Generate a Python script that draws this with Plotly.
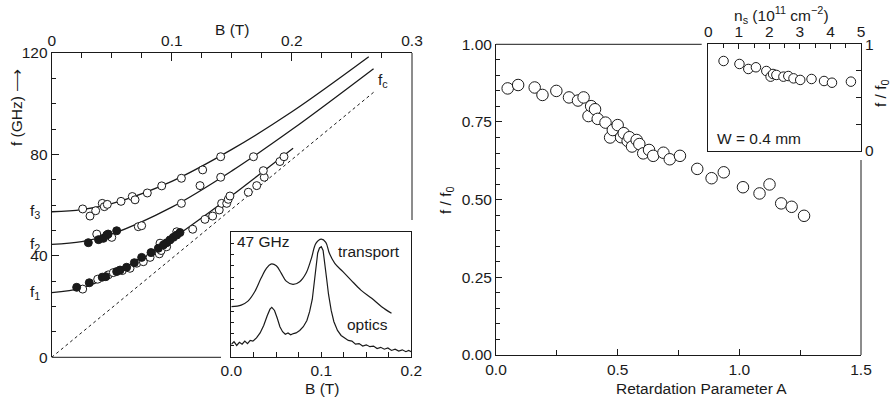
import plotly.graph_objects as go

W, H = 890, 405
def px(x):
    return x / W
def py(y):
    return 1 - y / H

FONT = "Liberation Sans, Arial, sans-serif"
INK = "#1a1a1a"
FS = 15.5

# ---------------- Left panel data (B in T, f in GHz) ----------------
open_B = [0.0258, 0.0319, 0.0366, 0.0421, 0.0438, 0.0463, 0.0577, 0.0671, 0.0694, 0.0796, 0.0916, 0.108, 0.1257, 0.1407,
          0.0375, 0.050, 0.0721, 0.0749, 0.108, 0.1235, 0.1407, 0.168,
          0.0258, 0.0383, 0.0471, 0.0513, 0.0588, 0.0652, 0.0708, 0.0763, 0.0819, 0.0896, 0.0911, 0.0902, 0.0957, 0.1041,
          0.1174, 0.1276, 0.134, 0.1395, 0.1415, 0.1457, 0.147, 0.1484, 0.1637, 0.1707, 0.177, 0.1762, 0.19, 0.1934]
open_f = [58.5, 55.7, 57.8, 60.7, 59.4, 60.3, 61.5, 63.4, 62.1, 64.8, 67.6, 70.6, 73.9, 79.1,
          48.6, 47.3, 51.5, 51.9, 60.7, 67.7, 71.0, 79.1,
          26.9, 30.8, 32.5, 33.4, 34.2, 35.1, 37.1, 37.7, 39.4, 40.8, 42.1, 45.0, 43.6, 49.5,
          50.5, 54.4, 55.7, 58.1, 60.7, 60.7, 62.3, 63.6, 65.1, 67.7, 71.0, 73.6, 77.2, 79.1]
filled_B = [0.0305, 0.039, 0.043, 0.0458, 0.047, 0.0541,
            0.0208, 0.0313, 0.0421, 0.045, 0.0541, 0.0569, 0.0624, 0.0688, 0.0749, 0.0827, 0.0888, 0.093, 0.0958,
            0.0985, 0.1013, 0.1041, 0.1068]
filled_f = [45.2, 46.4, 46.9, 48.2, 48.6, 49.9,
            27.6, 29.4, 31.6, 31.8, 33.8, 34.4, 35.5, 37.3, 39.4, 41.3, 43.0, 44.3, 45.2,
            46.3, 47.3, 48.2, 49.2]

# magnetoplasmon branches
curve3_B = [0, 0.025, 0.05, 0.1, 0.15, 0.2, 0.264]
curve3_f = [57.4, 58.2, 60.6, 69.4, 82.0, 96.8, 118.5]
curve2_B = [0, 0.025, 0.05, 0.1, 0.15, 0.2, 0.268]
curve2_f = [44.5, 45.6, 48.6, 59.2, 73.5, 89.8, 113.8]
curve1_B = [0, 0.025, 0.05, 0.075, 0.1, 0.125, 0.15, 0.175, 0.201]
curve1_f = [25.5, 27.3, 32.2, 38.8, 46.6, 55.0, 63.8, 72.9, 82.4]
fc_B = [0, 0.268]
fc_f = [0, 104.5]
f_labels = ["f<sub>1</sub>", "f<sub>2</sub>", "f<sub>3</sub>"]
f_values = [25.5, 44.5, 57.4]

# inset spectra at 47 GHz (arb. units)
trans_B = [0.000, 0.011, 0.0185, 0.026, 0.033, 0.039, 0.044, 0.050, 0.0556, 0.061, 0.0685, 0.076, 0.083, 0.089,
           0.094, 0.100, 0.105, 0.109, 0.115, 0.124, 0.133, 0.144, 0.156, 0.167, 0.178]
trans_v = [0.40, 0.413, 0.445, 0.52, 0.627, 0.707, 0.741, 0.728, 0.667, 0.605, 0.579, 0.60, 0.667, 0.787,
           0.907, 0.941, 0.915, 0.827, 0.747, 0.68, 0.613, 0.533, 0.467, 0.40, 0.347]
opt_B = [0.000, 0.003, 0.006, 0.009, 0.012, 0.015, 0.018, 0.021, 0.024, 0.028, 0.032, 0.036, 0.040, 0.043, 0.045,
         0.048, 0.051, 0.054, 0.057, 0.060, 0.063, 0.066, 0.069, 0.072, 0.076, 0.080, 0.084, 0.087, 0.090, 0.092,
         0.094, 0.096, 0.098, 0.100, 0.102, 0.104, 0.106, 0.108, 0.111, 0.114, 0.118, 0.122, 0.126, 0.130, 0.134,
         0.138, 0.142, 0.146, 0.150, 0.154, 0.158, 0.162, 0.166, 0.170, 0.174, 0.178, 0.182, 0.186, 0.190, 0.194,
         0.197, 0.200]
opt_v = [0.10, 0.12, 0.09, 0.115, 0.10, 0.125, 0.105, 0.13, 0.125, 0.15, 0.19, 0.25, 0.33, 0.38, 0.395,
         0.37, 0.31, 0.24, 0.20, 0.18, 0.19, 0.175, 0.185, 0.19, 0.21, 0.24, 0.29, 0.36, 0.46, 0.58,
         0.72, 0.83, 0.87, 0.88, 0.85, 0.75, 0.62, 0.50, 0.37, 0.28, 0.21, 0.17, 0.15, 0.13, 0.125,
         0.10, 0.105, 0.085, 0.095, 0.08, 0.085, 0.065, 0.075, 0.06, 0.07, 0.05, 0.06, 0.045, 0.055, 0.04,
         0.05, 0.04]

# ---------------- Right panel data ----------------
A_vals = [0.048, 0.091, 0.159, 0.191, 0.248, 0.300, 0.337, 0.360, 0.380, 0.391, 0.407, 0.418, 0.450, 0.469, 0.480,
          0.500, 0.514, 0.525, 0.541, 0.548, 0.559, 0.578, 0.589, 0.605, 0.629, 0.646, 0.688, 0.714, 0.756, 0.827,
          0.886, 0.936, 1.015, 1.083, 1.124, 1.172, 1.215, 1.266]
ratio_vals = [0.858, 0.869, 0.861, 0.837, 0.850, 0.829, 0.819, 0.829, 0.769, 0.801, 0.791, 0.760, 0.748, 0.700, 0.724,
              0.740, 0.701, 0.714, 0.689, 0.701, 0.671, 0.692, 0.679, 0.649, 0.660, 0.641, 0.651, 0.630, 0.641, 0.599,
              0.569, 0.588, 0.540, 0.520, 0.549, 0.488, 0.477, 0.448]
ns_vals = [0.50, 1.02, 1.31, 1.56, 1.90, 2.04, 2.12, 2.23, 2.46, 2.62, 2.79, 3.01, 3.38, 3.79, 4.05, 4.67]
ns_ratio = [0.843, 0.815, 0.768, 0.784, 0.749, 0.696, 0.721, 0.712, 0.696, 0.702, 0.680, 0.665, 0.674, 0.655, 0.639, 0.649]

fig = go.Figure()

# left main
fig.add_trace(go.Scatter(x=fc_B, y=fc_f, mode="lines", line=dict(color=INK, width=1, dash="dot"),
                         xaxis="x", yaxis="y", hoverinfo="skip"))
for cb, cf in [(curve3_B, curve3_f), (curve2_B, curve2_f), (curve1_B, curve1_f)]:
    fig.add_trace(go.Scatter(x=cb, y=cf, mode="lines", line=dict(color=INK, width=1.3, shape="spline"),
                             xaxis="x", yaxis="y"))
fig.add_trace(go.Scatter(x=open_B, y=open_f, mode="markers",
                         marker=dict(size=8, color="white", line=dict(color=INK, width=1)),
                         xaxis="x", yaxis="y"))
fig.add_trace(go.Scatter(x=filled_B, y=filled_f, mode="markers",
                         marker=dict(size=8, color=INK, line=dict(color=INK, width=1)),
                         xaxis="x", yaxis="y"))
fig.add_trace(go.Scatter(x=[-0.0048] * len(f_values), y=f_values, mode="markers", cliponaxis=False,
                         marker=dict(symbol="triangle-right", size=8, color=INK),
                         xaxis="x", yaxis="y"))

# left inset
fig.add_trace(go.Scatter(x=trans_B, y=trans_v, mode="lines", line=dict(color=INK, width=1.2, shape="spline"),
                         xaxis="x2", yaxis="y2"))
fig.add_trace(go.Scatter(x=opt_B, y=opt_v, mode="lines", line=dict(color=INK, width=1.2),
                         xaxis="x2", yaxis="y2"))

# right main
fig.add_trace(go.Scatter(x=A_vals, y=ratio_vals, mode="markers",
                         marker=dict(size=11.5, color="white", line=dict(color=INK, width=1)),
                         xaxis="x3", yaxis="y3"))
# right inset
fig.add_trace(go.Scatter(x=ns_vals, y=ns_ratio, mode="markers",
                         marker=dict(size=9.5, color="white", line=dict(color=INK, width=1)),
                         xaxis="x4", yaxis="y4"))

axfont = dict(family=FONT, size=FS, color=INK)
common = dict(showgrid=False, zeroline=False, linecolor=INK, linewidth=1, tickcolor=INK,
              tickfont=axfont, ticks="inside", automargin=False)

fig.update_layout(
    width=W, height=H, autosize=False, showlegend=False,
    margin=dict(l=0, r=0, t=0, b=0, pad=0),
    paper_bgcolor="white", plot_bgcolor="white",
    font=dict(family=FONT, size=FS, color=INK),
    xaxis=dict(domain=[px(51.7), px(412)], range=[0, 0.3], anchor="y", side="top", showline=True,
               tickvals=[0, 0.1, 0.2, 0.3], ticktext=["0", "0.1", "0.2", "0.3"], ticklen=8,
               minor=dict(dtick=0.025, ticklen=5, ticks="inside", tickcolor=INK), **common),
    yaxis=dict(domain=[py(357.3), py(53)], range=[0, 120], anchor="x", showline=True,
               tickvals=[0, 40, 80, 120], ticklen=7,
               minor=dict(dtick=10, ticklen=4, ticks="inside", tickcolor=INK), **common),
    xaxis2=dict(domain=[px(231.3), px(411.3)], range=[0, 0.2], anchor="y2", showline=True, mirror=True,
                tickvals=[0, 0.1, 0.2], ticktext=["0.0", "0.1", "0.2"], ticklen=5,
                minor=dict(dtick=0.025, ticklen=5, ticks="inside", tickcolor=INK), **common),
    yaxis2=dict(domain=[py(356.7), py(231.7)], range=[0, 1], anchor="x2", showline=True, mirror=True,
                showticklabels=False, dtick=1 / 11, ticklen=3, **common),
    xaxis3=dict(domain=[px(496), px(861)], range=[0, 1.5], anchor="y3", showline=True,
                tickvals=[0, 0.5, 1.0, 1.5], ticktext=["0.0", "0.5", "1.0", "1.5"], ticklen=6,
                minor=dict(dtick=0.25, ticklen=5, ticks="inside", tickcolor=INK), **common),
    yaxis3=dict(domain=[py(355), py(44.3)], range=[0, 1], anchor="x3", showline=True,
                tickvals=[0, 0.25, 0.5, 0.75, 1.0], ticktext=["0.00", "0.25", "0.50", "0.75", "1.00"], ticklen=6,
                minor=dict(dtick=0.05, ticklen=4, ticks="inside", tickcolor=INK), **common),
    xaxis4=dict(domain=[px(708.3), px(861)], range=[0, 5], anchor="y4", side="top", showline=True, mirror=True,
                tickvals=[0, 1, 2, 3, 4, 5], ticklen=5,
                minor=dict(dtick=0.5, ticklen=4, ticks="inside", tickcolor=INK), **common),
    yaxis4=dict(domain=[py(150.7), py(44.3)], range=[0, 1], anchor="x4", side="right", showline=True, mirror=True,
                tickvals=[0, 1], ticktext=["0", "1"], ticklen=5,
                minor=dict(dtick=0.25, ticklen=5, ticks="inside", tickcolor=INK), **common),
)

line = dict(color=INK, width=1)
shapes = [
    # left main frame: bottom and right pieces around the inset
    dict(type="line", xref="paper", yref="paper", x0=px(51.7), x1=px(221), y0=py(357.3), y1=py(357.3), line=line),
    dict(type="line", xref="paper", yref="paper", x0=px(412), x1=px(412), y0=py(220), y1=py(53), line=line),
    # right main frame: top and right pieces around the inset
    dict(type="line", xref="paper", yref="paper", x0=px(496), x1=px(701.7), y0=py(44.3), y1=py(44.3), line=line),
    dict(type="line", xref="paper", yref="paper", x0=px(861), x1=px(861), y0=py(355), y1=py(160), line=line),
]
fig.update_layout(shapes=shapes)

ann = []
def txt(x, y, s, xanchor="center", yanchor="middle", **kw):
    d = dict(x=px(x), y=py(y), xref="paper", yref="paper", text=s, showarrow=False,
             xanchor=xanchor, yanchor=yanchor, font=dict(family=FONT, size=FS, color=INK))
    d.update(kw)
    ann.append(d)

txt(232, 29, "B (T)")
txt(17, 108, "f (GHz) ⟶", textangle=-90)
for lab, val in zip(f_labels, f_values):
    ann.append(dict(x=px(42), y=val, xref="paper", yref="y", text=lab, showarrow=False,
                    xanchor="right", yanchor="middle", font=dict(family=FONT, size=FS, color=INK)))
ann.append(dict(x=0.27, y=104.5, xref="x", yref="y", text="f<sub>c</sub>", showarrow=False,
                xanchor="left", yanchor="bottom", font=dict(family=FONT, size=FS, color=INK)))
txt(235, 241, "47 GHz", xanchor="left")
txt(336, 251, "transport", xanchor="left")
txt(345, 324, "optics", xanchor="left")
txt(322, 388, "B (T)")
txt(701, 388, "Retardation Parameter A")
txt(446, 200, "f / f<sub>0</sub>", textangle=-90)
txt(781, 15, "n<sub>s</sub> (10<sup>11</sup> cm<sup>−2</sup>)")
txt(881, 93, "f / f<sub>0</sub>", textangle=-90)
txt(715, 138, "W = 0.4 mm", xanchor="left")
fig.update_layout(annotations=ann)

fig.write_html("out.html", config={"displayModeBar": False},
               post_script="document.body.style.margin='0';document.body.style.overflow='hidden';")
